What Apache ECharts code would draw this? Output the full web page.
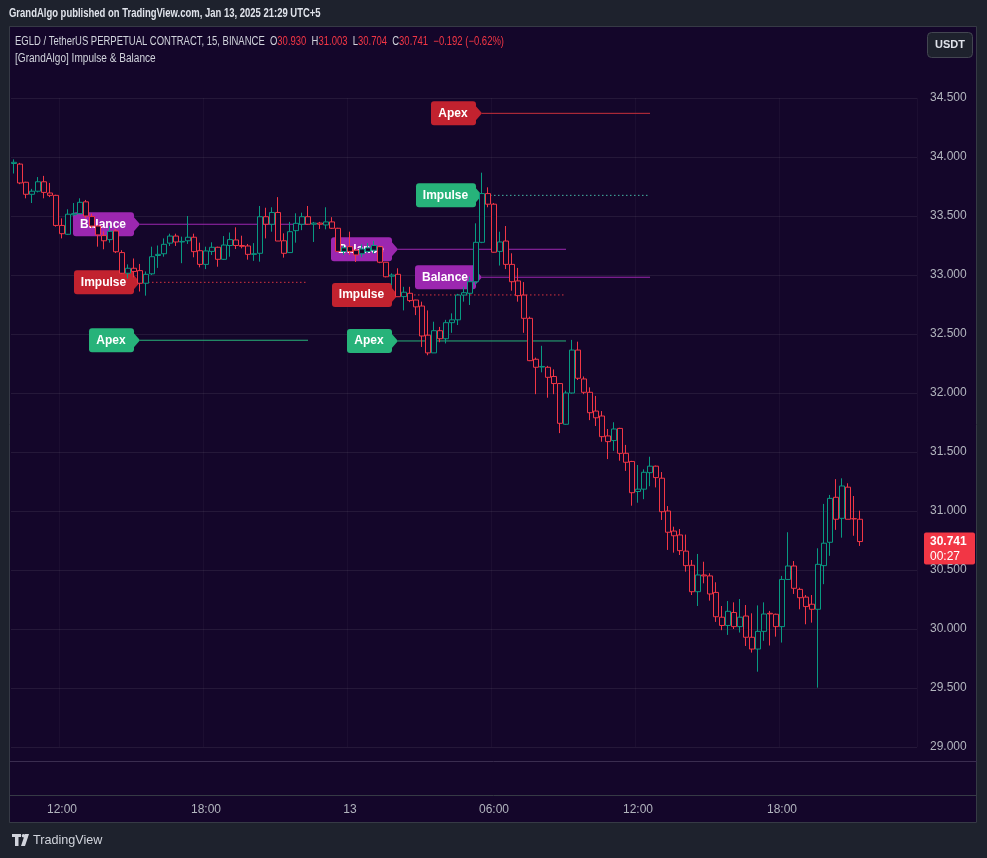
<!DOCTYPE html>
<html>
<head>
<meta charset="utf-8">
<script src="https://cdn.jsdelivr.net/npm/echarts@6/dist/echarts.min.js"></script>
<style>
html,body{margin:0;padding:0;background:#1e222d;}
#c{width:987px;height:858px;}
</style>
</head>
<body>
<div id="c"></div>
<script>
// ---- categories: 15-minute bars from 2025-01-12 10:00 (extra empty slots on the right) ----
const times = [];
for (let m = 10 * 60; times.length < 151; m += 15) {
  const day = 12 + Math.floor(m / 1440);
  const mm = m % 1440;
  times.push('2025-01-' + day + ' ' + String(Math.floor(mm / 60)).padStart(2, '0') + ':' + String(mm % 60).padStart(2, '0'));
}

// ---- OHLC values ----
const open = [
33.945,33.94,33.786,33.684,33.71,33.79,33.695,33.675,33.42,33.345,
33.51,33.52,33.62,33.495,33.415,33.334,33.30,33.373,33.19,33.015,
33.057,33.037,32.93,33.01,33.165,33.18,33.27,33.33,33.28,33.29,
33.32,33.206,33.09,33.20,33.235,33.133,33.25,33.297,33.25,33.246,
33.175,33.184,33.494,33.43,33.53,33.29,33.19,33.376,33.43,33.494,
33.43,33.44,33.424,33.45,33.396,33.20,33.24,33.21,33.18,33.20,
33.21,33.24,33.108,32.99,33.006,32.817,32.845,32.788,32.737,32.49,
32.34,32.528,32.46,32.596,32.62,32.83,32.845,32.943,33.277,33.69,
33.60,33.2,33.288,33.09,32.95,32.83,32.633,32.286,32.22,32.218,
32.14,32.08,31.735,32.0,32.364,32.119,32.006,31.847,31.805,31.636,
31.597,31.7,31.489,31.42,31.165,31.185,31.325,31.38,31.278,31.0,
30.83,30.797,30.66,30.54,30.316,30.458,30.45,30.31,30.1,30.03,
30.14,30.02,30.11,29.93,29.83,29.98,30.133,30.125,30.02,30.42,
30.534,30.336,30.27,30.21,30.167,30.537,30.735,31.116,30.938,31.202,
30.935,30.93];
const close = [
33.955,33.78,33.684,33.71,33.79,33.70,33.675,33.42,33.35,33.515,
33.52,33.616,33.50,33.415,33.34,33.29,33.37,33.197,33.015,33.057,
33.03,32.93,33.006,33.155,33.175,33.26,33.33,33.28,33.285,33.32,
33.198,33.09,33.204,33.235,33.133,33.254,33.30,33.25,33.243,33.175,
33.18,33.494,33.43,33.53,33.288,33.184,33.367,33.438,33.494,33.43,
33.44,33.43,33.45,33.396,33.2,33.23,33.20,33.17,33.22,33.23,
33.25,33.108,32.985,33.0,32.816,32.854,32.783,32.73,32.483,32.34,
32.528,32.46,32.596,32.62,32.83,32.85,32.943,33.277,33.69,33.60,
33.193,33.28,33.09,32.943,32.825,32.633,32.274,32.218,32.225,32.133,
32.08,31.743,32.0,32.364,32.125,32.006,31.833,31.79,31.63,31.588,
31.695,31.489,31.413,31.155,31.185,31.328,31.38,31.283,30.994,30.82,
30.79,30.664,30.537,30.316,30.458,30.45,30.297,30.104,30.03,30.15,
30.02,30.1,29.93,29.83,29.98,30.127,30.128,30.02,30.42,30.534,
30.345,30.265,30.19,30.167,30.548,30.727,31.107,30.93,31.212,30.93,
30.933,30.741];
const high = [
33.98,33.95,33.79,33.73,33.83,33.84,33.78,33.68,33.48,33.557,
33.61,33.65,33.636,33.52,33.42,33.37,33.415,33.39,33.21,33.09,
33.14,33.094,33.03,33.24,33.25,33.31,33.35,33.35,33.325,33.5,
33.35,33.274,33.24,33.277,33.24,33.33,33.36,33.404,33.333,33.263,
33.27,33.585,33.57,33.574,33.66,33.353,33.45,33.523,33.528,33.585,
33.45,33.45,33.574,33.49,33.40,33.25,33.367,33.22,33.26,33.27,
33.29,33.25,33.11,33.014,33.057,32.9,32.9,32.79,32.774,32.70,
32.604,32.56,32.62,32.675,32.84,32.9,32.986,33.438,33.867,33.743,
33.61,33.367,33.415,33.184,33.06,32.94,32.647,32.3,32.4,32.23,
32.2,32.085,32.02,32.45,32.435,32.14,32.048,31.975,31.847,31.695,
31.752,31.705,31.56,31.425,31.39,31.353,31.46,31.385,31.33,31.042,
30.867,30.847,30.8,30.585,30.636,30.57,30.472,30.396,30.195,30.237,
30.226,30.254,30.203,30.133,30.2,30.226,30.153,30.13,30.45,30.82,
30.576,30.35,30.288,30.288,30.684,31.06,31.136,31.27,31.277,31.235,
31.127,31.003];
const low = [
33.86,33.77,33.65,33.61,33.70,33.65,33.66,33.41,33.31,33.34,
33.50,33.515,33.48,33.40,33.24,33.218,33.274,33.186,33.01,32.97,
32.98,32.86,32.825,33.0,33.06,33.155,33.246,33.246,33.10,33.263,
33.15,33.065,33.05,33.17,33.07,33.127,33.155,33.22,33.226,33.13,
33.12,33.113,33.31,33.367,33.288,33.147,33.19,33.274,33.38,33.43,
33.28,33.39,33.387,33.39,33.2,33.17,33.17,33.11,33.15,33.19,
33.18,33.10,32.98,32.915,32.816,32.70,32.77,32.66,32.39,32.32,
32.34,32.43,32.42,32.51,32.576,32.774,32.746,32.915,33.27,33.574,
33.19,33.08,33.05,32.867,32.774,32.51,32.27,31.99,32.175,31.96,
31.99,31.66,31.73,31.995,32.11,31.99,31.77,31.72,31.587,31.44,
31.51,31.426,31.34,31.045,31.07,31.1,31.21,31.2,30.924,30.67,
30.647,30.627,30.486,30.288,30.195,30.387,30.24,30.06,29.99,29.95,
30.0,29.97,29.856,29.8,29.638,29.9,29.86,29.935,29.885,30.415,
30.297,30.167,30.04,30.054,29.503,30.38,30.62,30.84,30.774,30.93,
30.79,30.704];

// ---- Impulse & Balance annotations ----
const annoLabel = ['Balance','Impulse','Apex','Balance','Impulse','Apex','Apex','Impulse','Balance'];
const annoPrice = [33.43, 32.938, 32.447, 33.218, 32.831, 32.441, 34.37, 33.675, 32.981];
const annoStart = [21, 21, 21, 64, 64, 64, 78, 78, 78];
const annoEnd   = [49, 49, 49, 92, 92, 92, 106, 106, 106];
const annoTone  = ['purple','red','green','purple','red','green','red','green','purple'];

// ---- price axis ----
const priceMin = 29.0, priceMax = 34.5, priceStep = 0.5;

// ---- styles ----
const BG = '#14062a';
const UP = '#089981', DOWN = '#f23645';
const toneFill = { purple: '#9c27b0', red: '#c2222f', green: '#27b37a' };
const toneLine = { purple: '#9c27b0', red: '#c8303a', green: '#27b37a' };
const impulseLine = { red: '#d6343f', green: '#45b6a6' };
const tagWidth = { Balance: 60, Impulse: 59, Apex: 44 };
const FONT = '"Liberation Sans", Arial, sans-serif';
const NARROW = 0.79;

const chart = echarts.init(document.getElementById('c'), null, { renderer: 'canvas' });

const candleData = open.map((o, i) => [o, close[i], low[i], high[i]]);
const annoData = annoLabel.map((l, i) => [annoStart[i], annoPrice[i], annoEnd[i]]);

function renderTag(params, api) {
  const i = params.dataIndex;
  const a = api.coord([api.value(0), api.value(1)]);
  const b = api.coord([api.value(2), api.value(1)]);
  const label = annoLabel[i], tone = annoTone[i];
  const w = tagWidth[label], h = 24, tip = 7;
  const xr = a[0] - tip;
  const x0 = xr - w;
  const isImp = label === 'Impulse';
  return {
    type: 'group',
    children: [
      { type: 'line', shape: { x1: a[0], y1: a[1], x2: b[0], y2: b[1] },
        style: { stroke: isImp ? impulseLine[tone] : toneLine[tone], lineWidth: 1, lineDash: isImp ? [1.5, 2.5] : null } },
      { type: 'rect', shape: { x: x0, y: a[1] - h / 2, width: w + 1, height: h, r: 3 },
        style: { fill: toneFill[tone] } },
      { type: 'polygon', shape: { points: [[xr, a[1] - 8], [a[0], a[1]], [xr, a[1] + 8]] },
        style: { fill: toneFill[tone] } },
      { type: 'text', style: { text: label, x: x0 + w / 2, y: a[1], align: 'center', verticalAlign: 'middle',
        fill: '#ffffff', font: 'bold 12px ' + FONT } }
    ]
  };
}

function isMajorTime(v) {
  const t = v.slice(11);
  return t.endsWith(':00') && Number(t.slice(0, 2)) % 6 === 0;
}

const option = {
  backgroundColor: BG,
  animation: false,
  grid: { left: 11, right: 70, top: 98, bottom: 111 },
  xAxis: {
    type: 'category', data: times, boundaryGap: true,
    axisLine: { show: false }, axisTick: { show: false },
    axisLabel: {
      interval: (idx, v) => isMajorTime(v),
      formatter: v => { const t = v.slice(11); return t === '00:00' ? String(Number(v.slice(8, 10))) : t; },
      color: '#b2b5be', fontSize: 12, fontFamily: FONT, margin: 57
    },
    splitLine: { show: true, interval: (idx, v) => isMajorTime(v), lineStyle: { color: 'rgba(255,255,255,0.035)', width: 1 } }
  },
  yAxis: {
    type: 'value', position: 'right', min: priceMin, max: priceMax, interval: priceStep,
    axisLine: { show: false }, axisTick: { show: false },
    axisLabel: { formatter: v => v.toFixed(3), color: '#b2b5be', fontSize: 12, fontFamily: FONT, margin: 13, align: 'left' },
    splitLine: { lineStyle: { color: 'rgba(255,255,255,0.075)', width: 1 } }
  },
  series: [
    { type: 'custom', name: 'annotations', data: annoData, renderItem: renderTag, z: 1, clip: false, silent: true },
    {
      type: 'candlestick', name: 'EGLDUSDT.P', data: candleData, z: 3,
      barWidth: 5,
      itemStyle: { color: BG, color0: BG, borderColor: UP, borderColor0: DOWN, borderWidth: 1 }
    }
  ]
};
chart.setOption(option);

// ---- frame, header, price tag (decorations) ----
const last = open.length - 1;
const tagY = chart.convertToPixel({ yAxisIndex: 0 }, close[last]);
const chg = close[last] - close[last - 1];
const pct = chg / close[last - 1] * 100;
const sgn = (x, d) => (x < 0 ? '\u2212' : '+') + Math.abs(x).toFixed(d);

const graphics = [
  { type: 'rect', shape: { x: 0, y: 0, width: 987, height: 27 }, style: { fill: '#1e222d' }, silent: true },
  { type: 'rect', shape: { x: 0, y: 823, width: 987, height: 35 }, style: { fill: '#1e222d' }, silent: true },
  { type: 'rect', shape: { x: 0, y: 0, width: 10, height: 858 }, style: { fill: '#1e222d' }, silent: true },
  { type: 'rect', shape: { x: 977, y: 0, width: 10, height: 858 }, style: { fill: '#1e222d' }, silent: true },
  { type: 'rect', shape: { x: 9.5, y: 26.5, width: 967, height: 796 }, style: { fill: null, stroke: '#363a45', lineWidth: 1 }, silent: true },
  { type: 'line', shape: { x1: 10, y1: 761.5, x2: 977, y2: 761.5 }, style: { stroke: '#3a2d4f', lineWidth: 1 }, silent: true },
  { type: 'line', shape: { x1: 10, y1: 795.5, x2: 977, y2: 795.5 }, style: { stroke: '#363a45', lineWidth: 1 }, silent: true },
  { type: 'text', x: 9, y: 14, scaleX: NARROW, style: { text: 'GrandAlgo published on TradingView.com, Jan 13, 2025 21:29 UTC+5', x: 0, y: 0, verticalAlign: 'middle',
      fill: '#e0e3eb', font: 'bold 12px ' + FONT } },
  { type: 'text', x: 15, y: 42, scaleX: NARROW, style: {
      x: 0, y: 0, verticalAlign: 'middle', font: '12px ' + FONT,
      text: '{w|EGLD / TetherUS PERPETUAL CONTRACT, 15, BINANCE  O}{r|' + open[last].toFixed(3) + '}{w|  H}{r|' + high[last].toFixed(3) +
            '}{w|  L}{r|' + low[last].toFixed(3) + '}{w|  C}{r|' + close[last].toFixed(3) + '}{r|  ' + sgn(chg, 3) + ' (' + sgn(pct, 2) + '%)}',
      rich: { w: { fill: '#d1d4dc', font: '12px ' + FONT }, r: { fill: DOWN, font: '12px ' + FONT } } } },
  { type: 'text', x: 15, y: 59, scaleX: 0.84, style: { text: '[GrandAlgo] Impulse & Balance', x: 0, y: 0, verticalAlign: 'middle', fill: '#d1d4dc', font: '12px ' + FONT } },
  { type: 'rect', shape: { x: 927.5, y: 32.5, width: 45, height: 25, r: 4 }, style: { fill: '#1e222d', stroke: '#434651', lineWidth: 1 } },
  { type: 'text', style: { text: 'USDT', x: 950, y: 45, align: 'center', verticalAlign: 'middle', fill: '#e0e3eb', font: 'bold 11px ' + FONT } },
  { type: 'rect', shape: { x: 924, y: tagY - 9, width: 51, height: 32, r: 2 }, style: { fill: DOWN } },
  { type: 'text', style: { text: close[last].toFixed(3), x: 930, y: tagY, verticalAlign: 'middle', fill: '#ffffff', font: 'bold 12px ' + FONT } },
  { type: 'text', style: { text: '00:27', x: 930, y: tagY + 15, verticalAlign: 'middle', fill: '#ffffff', font: '12px ' + FONT } },
  // TradingView logo
  { type: 'polygon', shape: { points: [[12, 834], [21, 834], [21, 837], [18.5, 837], [18.5, 846], [15, 846], [15, 837], [12, 837]] }, style: { fill: '#d1d4dc' } },
  { type: 'circle', shape: { cx: 23.5, cy: 835.8, r: 1.8 }, style: { fill: '#d1d4dc' } },
  { type: 'polygon', shape: { points: [[25, 834], [29, 834], [25, 846], [21, 846]] }, style: { fill: '#d1d4dc' } },
  { type: 'text', x: 33, y: 840, scaleX: 0.97, style: { text: 'TradingView', x: 0, y: 0, verticalAlign: 'middle', fill: '#d1d4dc', font: '13px ' + FONT } }
];
chart.setOption({ graphic: { elements: graphics } });
</script>
</body>
</html>
